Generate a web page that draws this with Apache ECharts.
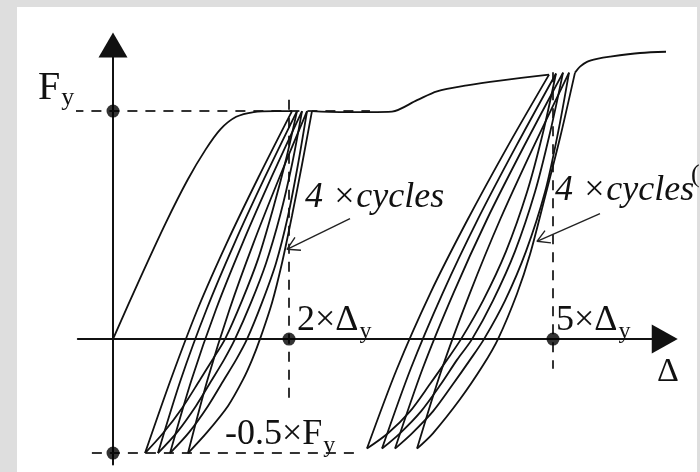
<!DOCTYPE html>
<html>
<head>
<meta charset="utf-8">
<script src="https://cdn.jsdelivr.net/npm/echarts@6/dist/echarts.min.js"></script>
<style>
  html, body { margin: 0; padding: 0; background: #dedede; }
  #chart { width: 700px; height: 472px; }
</style>
</head>
<body>
<div id="chart"></div>
<script>
// Displacement in units of Δy, force in units of Fy.

// Monotonic loading up to the first yield plateau
const backbone = [[0, 0], [0.3, 0.26], [0.6, 0.51], [0.85, 0.7], [1.05, 0.83], [1.22, 0.92],
  [1.4, 0.975], [1.6, 0.996], [1.84, 1.0], [2.034, 1.0]];

// Four cycles around 2×Δy: unloading to -0.5×Fy and reloading
const unloadSet1 = [
  [[2.034, 1.0], [1.653, 0.71], [1.291, 0.42], [0.96, 0.13], [0.656, -0.178], [0.364, -0.5]],
  [[2.091, 1.0], [1.726, 0.71], [1.38, 0.42], [1.063, 0.13], [0.77, -0.178], [0.511, -0.5]],
  [[2.148, 1.0], [1.801, 0.71], [1.472, 0.42], [1.17, 0.13], [0.893, -0.178], [0.648, -0.5]],
  [[2.205, 1.0], [1.892, 0.71], [1.595, 0.42], [1.324, 0.13], [1.074, -0.178], [0.852, -0.5]]
];
const reloadSet1 = [
  [[0.364, -0.5], [0.568, -0.413], [0.784, -0.303], [0.989, -0.178], [1.136, -0.087], [1.273, 0],
   [1.466, 0.169], [1.648, 0.351], [1.818, 0.571], [1.966, 0.788], [2.091, 1.0]],
  [[0.511, -0.5], [0.727, -0.409], [0.943, -0.293], [1.125, -0.178], [1.261, -0.091], [1.386, 0],
   [1.568, 0.16], [1.739, 0.333], [1.898, 0.541], [2.034, 0.766], [2.148, 1.0]],
  [[0.648, -0.5], [0.864, -0.409], [1.08, -0.293], [1.261, -0.178], [1.398, -0.091], [1.523, 0],
   [1.693, 0.16], [1.852, 0.333], [1.989, 0.541], [2.102, 0.766], [2.205, 1.0]],
  [[0.852, -0.5], [1.068, -0.409], [1.307, -0.293], [1.477, -0.178], [1.58, -0.091], [1.67, 0],
   [1.807, 0.16], [1.92, 0.333], [2.034, 0.541], [2.148, 0.766], [2.261, 1.0]]
];

// Plateau and hardening branch up to 5×Δy
const plateauRise = [[2.261, 1.0], [2.58, 0.996], [2.92, 0.996], [3.17, 0.998], [3.455, 1.048],
  [3.682, 1.087], [4.023, 1.113], [4.398, 1.134], [4.955, 1.16]];

// Four cycles around 5×Δy
const unloadSet2 = [
  [[4.955, 1.16], [4.477, 0.84], [4.023, 0.519], [3.608, 0.203], [3.227, -0.13], [2.886, -0.48]],
  [[5.034, 1.165], [4.578, 0.844], [4.144, 0.524], [3.748, 0.203], [3.383, -0.13], [3.057, -0.48]],
  [[5.114, 1.169], [4.673, 0.848], [4.253, 0.528], [3.87, 0.203], [3.518, -0.13], [3.205, -0.48]],
  [[5.182, 1.169], [4.783, 0.848], [4.403, 0.528], [4.057, 0.203], [3.738, -0.13], [3.455, -0.48]]
];
const reloadSet2 = [
  [[2.886, -0.48], [3.125, -0.413], [3.375, -0.317], [3.602, -0.197], [3.795, -0.091], [3.955, 0],
   [4.205, 0.169], [4.466, 0.385], [4.705, 0.645], [4.886, 0.905], [5.034, 1.165]],
  [[3.057, -0.48], [3.261, -0.413], [3.5, -0.317], [3.727, -0.197], [3.909, -0.091], [4.08, 0],
   [4.318, 0.169], [4.568, 0.385], [4.795, 0.645], [4.966, 0.905], [5.114, 1.169]],
  [[3.205, -0.48], [3.398, -0.413], [3.636, -0.317], [3.864, -0.197], [4.057, -0.091], [4.216, 0],
   [4.455, 0.169], [4.693, 0.385], [4.909, 0.645], [5.057, 0.905], [5.182, 1.169]],
  [[3.455, -0.48], [3.636, -0.413], [3.943, -0.264], [4.205, -0.115], [4.375, 0], [4.591, 0.199],
   [4.739, 0.372], [4.909, 0.623], [5.08, 0.883], [5.25, 1.169]]
];

// Final loading after the second set of cycles
const finalRise = [[5.25, 1.169], [5.307, 1.195], [5.386, 1.216], [5.5, 1.229], [5.648, 1.239],
  [5.989, 1.255], [6.33, 1.261]];

// Reference levels and marked points
const markerPoints = [[0, 1], [0, -0.5], [2, 0], [5, 0]];
const fyGuide = [[-0.45, 1], [2.92, 1]];
const halfFyGuide = [[-0.24, -0.5], [2.8, -0.5]];
const twoDyGuide = [[2, 1.05], [2, -0.26]];
const fiveDyGuide = [[5, 1.17], [5, -0.13]];

// "4×cycles" pointers: shafts and open heads
const arrowShafts = [
  [[2.693, 0.528], [1.977, 0.394]],
  [[5.534, 0.55], [4.818, 0.429]]
];
const arrowHeads = [
  [[2.068, 0.446], [1.977, 0.394], [2.136, 0.39]],
  [[4.909, 0.476], [4.818, 0.429], [4.977, 0.422]]
];

const X_MIN = -0.4, X_MAX = 6.27, Y_MIN = -0.55, Y_MAX = 1.29;
const PX_X = 88, PX_Y = 228;

const INK = '#111';
function curve(data) {
  return { type: 'line', data: data, smooth: 0.3, symbol: 'none', clip: false, silent: true, z: 4,
    lineStyle: { color: INK, width: 1.8 } };
}
function dashed(data) {
  return { type: 'line', data: data, symbol: 'none', clip: false, silent: true, z: 3,
    lineStyle: { color: '#333', width: 2, type: [10, 8] } };
}
function thin(data) {
  return { type: 'line', data: data, symbol: 'none', clip: false, silent: true, z: 5,
    lineStyle: { color: '#222', width: 1.4 } };
}

const series = [];
[fyGuide, halfFyGuide, twoDyGuide, fiveDyGuide].forEach(d => series.push(dashed(d)));
series.push(curve(backbone));
unloadSet1.forEach(d => series.push(curve(d)));
reloadSet1.forEach(d => series.push(curve(d)));
series.push(curve(plateauRise));
unloadSet2.forEach(d => series.push(curve(d)));
reloadSet2.forEach(d => series.push(curve(d)));
series.push(curve(finalRise));
arrowShafts.forEach(d => series.push(thin(d)));
arrowHeads.forEach(d => series.push(thin(d)));
series.push({ type: 'scatter', data: markerPoints, symbolSize: 13, silent: true, z: 8,
  itemStyle: { color: '#000' } });

const left = 113 + X_MIN * PX_X;
const axisLine = (size) => ({ show: true, onZero: true, symbol: ['none', 'triangle'], symbolSize: size,
  lineStyle: { color: INK, width: 2 } });

const chart = echarts.init(document.getElementById('chart'), null, { renderer: 'canvas' });
chart.setOption({
  animation: false,
  backgroundColor: '#dedede',
  grid: { left: left, top: 45, width: (X_MAX - X_MIN) * PX_X, height: (Y_MAX - Y_MIN) * PX_Y },
  xAxis: { type: 'value', min: X_MIN, max: X_MAX, axisLine: axisLine([29, 26]),
    axisTick: { show: false }, axisLabel: { show: false }, splitLine: { show: false } },
  yAxis: { type: 'value', min: Y_MIN, max: Y_MAX, axisLine: axisLine([29, 25]),
    axisTick: { show: false }, axisLabel: { show: false }, splitLine: { show: false } },
  series: series
});

// Text annotations placed next to the marked points
const SERIF = '"Liberation Serif", "Times New Roman", Times, serif';
const ctx = document.createElement('canvas').getContext('2d');
function fontOf(size, italic) {
  return (italic ? 'italic ' : '') + size + 'px ' + SERIF;
}
function measure(s, size, italic) {
  ctx.font = fontOf(size, italic);
  return ctx.measureText(s).width;
}
function text(s, x, base, size, italic) {
  return { type: 'text', z: 60, silent: true,
    style: { text: s, x: x, y: base - 0.34 * size, font: fontOf(size, italic), fill: INK,
      align: 'left', verticalAlign: 'middle' } };
}
function withSub(main, sub, x, base, size, subSize, drop) {
  const w = measure(main, size, false);
  return [text(main, x, base, size, false), text(sub, x + w + 1, base + drop, subSize, false)];
}
const px = p => chart.convertToPixel({ gridIndex: 0 }, p);
const pFy = px(markerPoints[0]);
const pHalf = px(markerPoints[1]);
const p2 = px(markerPoints[2]);
const p5 = px(markerPoints[3]);

const graphic = [
  { type: 'rect', z: -10, silent: true, shape: { x: 17, y: 7, width: 680, height: 465 },
    style: { fill: '#ffffff' } }
];
graphic.push(...withSub('F', 'y', pFy[0] - 75, pFy[1] - 9, 40, 26, 5));
graphic.push(...withSub('2×Δ', 'y', p2[0] + 8, p2[1] - 6, 36, 24, 7));
graphic.push(...withSub('5×Δ', 'y', p5[0] + 3, p5[1] - 6, 36, 24, 7));
graphic.push(...withSub('-0.5×F', 'y', pHalf[0] + 112, pHalf[1] - 6, 36, 24, 7));
graphic.push(text('Δ', 657, p2[1] + 45, 34, false));
graphic.push(text('4 ×cycles', 305, 210, 36, true));
graphic.push(text('4 ×cycles', 555, 203, 36, true));
graphic.push(text('(', 691, 184, 26, false));

chart.setOption({ graphic: graphic });
</script>
</body>
</html>
